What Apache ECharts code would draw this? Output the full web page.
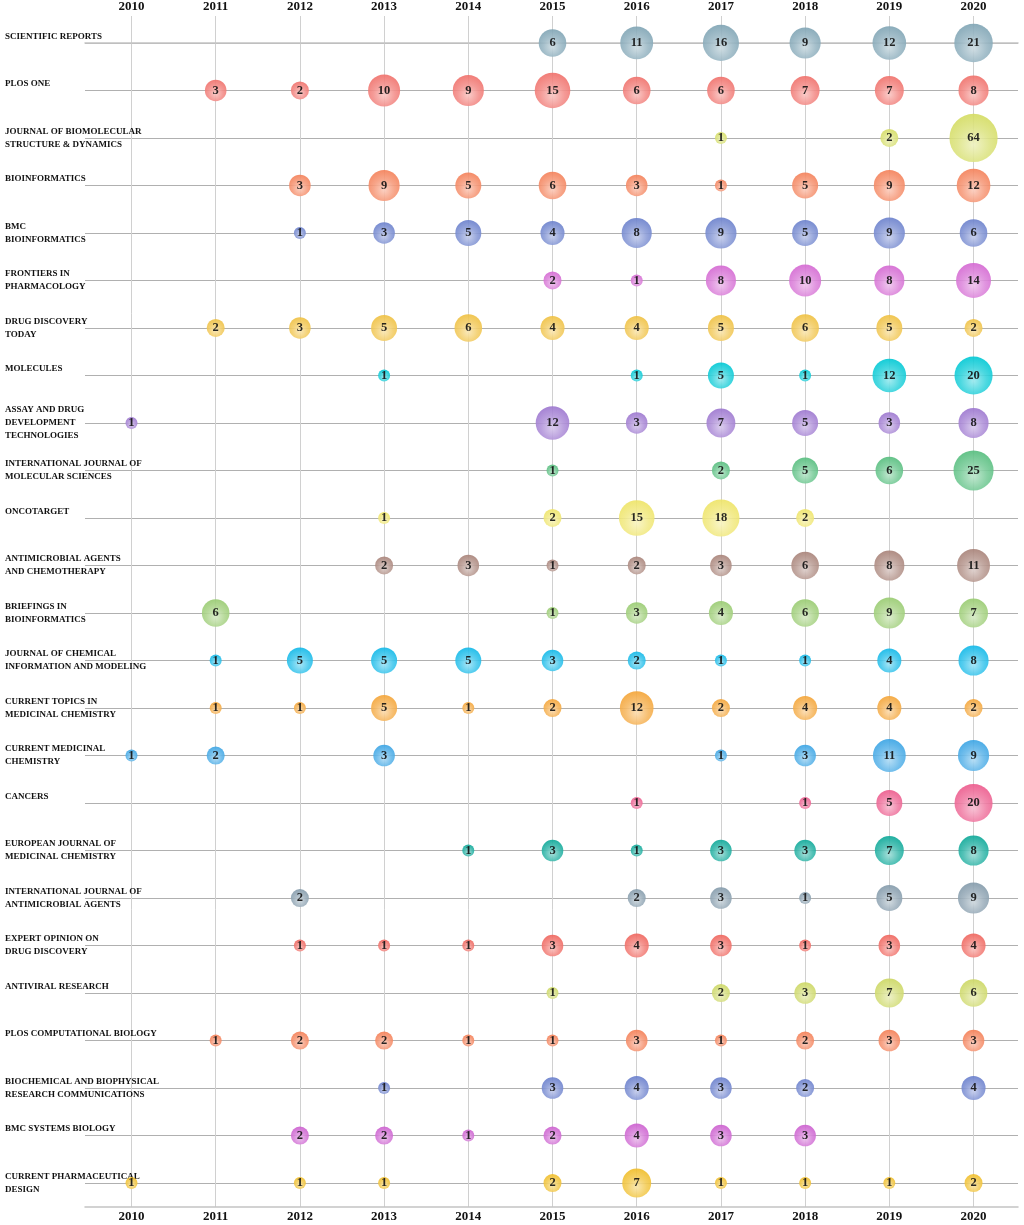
<!DOCTYPE html>
<html><head><meta charset="utf-8">
<script src="https://cdn.jsdelivr.net/npm/echarts@6/dist/echarts.min.js"></script>
<style>html,body{margin:0;padding:0;background:#fff}#c{width:1024px;height:1225px}</style>
</head><body><div id="c"></div>
<script>
const years = [2010, 2011, 2012, 2013, 2014, 2015, 2016, 2017, 2018, 2019, 2020];
const journals = [
  'SCIENTIFIC REPORTS',
  'PLOS ONE',
  'JOURNAL OF BIOMOLECULAR\nSTRUCTURE & DYNAMICS',
  'BIOINFORMATICS',
  'BMC\nBIOINFORMATICS',
  'FRONTIERS IN\nPHARMACOLOGY',
  'DRUG DISCOVERY\nTODAY',
  'MOLECULES',
  'ASSAY AND DRUG\nDEVELOPMENT\nTECHNOLOGIES',
  'INTERNATIONAL JOURNAL OF\nMOLECULAR SCIENCES',
  'ONCOTARGET',
  'ANTIMICROBIAL AGENTS\nAND CHEMOTHERAPY',
  'BRIEFINGS IN\nBIOINFORMATICS',
  'JOURNAL OF CHEMICAL\nINFORMATION AND MODELING',
  'CURRENT TOPICS IN\nMEDICINAL CHEMISTRY',
  'CURRENT MEDICINAL\nCHEMISTRY',
  'CANCERS',
  'EUROPEAN JOURNAL OF\nMEDICINAL CHEMISTRY',
  'INTERNATIONAL JOURNAL OF\nANTIMICROBIAL AGENTS',
  'EXPERT OPINION ON\nDRUG DISCOVERY',
  'ANTIVIRAL RESEARCH',
  'PLOS COMPUTATIONAL BIOLOGY',
  'BIOCHEMICAL AND BIOPHYSICAL\nRESEARCH COMMUNICATIONS',
  'BMC SYSTEMS BIOLOGY',
  'CURRENT PHARMACEUTICAL\nDESIGN'
];
const _ = null;
const counts = [
  [_, _, _, _, _, 6, 11, 16, 9, 12, 21],
  [_, 3, 2, 10, 9, 15, 6, 6, 7, 7, 8],
  [_, _, _, _, _, _, _, 1, _, 2, 64],
  [_, _, 3, 9, 5, 6, 3, 1, 5, 9, 12],
  [_, _, 1, 3, 5, 4, 8, 9, 5, 9, 6],
  [_, _, _, _, _, 2, 1, 8, 10, 8, 14],
  [_, 2, 3, 5, 6, 4, 4, 5, 6, 5, 2],
  [_, _, _, 1, _, _, 1, 5, 1, 12, 20],
  [1, _, _, _, _, 12, 3, 7, 5, 3, 8],
  [_, _, _, _, _, 1, _, 2, 5, 6, 25],
  [_, _, _, 1, _, 2, 15, 18, 2, _, _],
  [_, _, _, 2, 3, 1, 2, 3, 6, 8, 11],
  [_, 6, _, _, _, 1, 3, 4, 6, 9, 7],
  [_, 1, 5, 5, 5, 3, 2, 1, 1, 4, 8],
  [_, 1, 1, 5, 1, 2, 12, 2, 4, 4, 2],
  [1, 2, _, 3, _, _, _, 1, 3, 11, 9],
  [_, _, _, _, _, _, 1, _, 1, 5, 20],
  [_, _, _, _, 1, 3, 1, 3, 3, 7, 8],
  [_, _, 2, _, _, _, 2, 3, 1, 5, 9],
  [_, _, 1, 1, 1, 3, 4, 3, 1, 3, 4],
  [_, _, _, _, _, 1, _, 2, 3, 7, 6],
  [_, 1, 2, 2, 1, 1, 3, 1, 2, 3, 3],
  [_, _, _, 1, _, 3, 4, 3, 2, _, 4],
  [_, _, 2, 2, 1, 2, 4, 3, 3, _, _],
  [1, _, 1, 1, _, 2, 7, 1, 1, 1, 2]
];
const rowColors = [
  '#7fa4b4', '#f0706a', '#d4dc62', '#f48058', '#6a80cc',
  '#d468d2', '#efc040', '#00c8d4', '#9c76cf', '#55bd7d',
  '#eee466', '#a88278', '#98cb70', '#10b8e8', '#f4a436',
  '#3aa4e4', '#ec5a8c', '#0ca898', '#839aaa', '#ef645c',
  '#ccd762', '#f47e54', '#687ecc', '#cc5ecf', '#f0bd28'
];

function lighten(hex, t) {
  const n = parseInt(hex.slice(1), 16);
  const r = (n >> 16) & 255, g = (n >> 8) & 255, b = n & 255;
  const m = c => Math.round(c + (255 - c) * t);
  return 'rgb(' + m(r) + ',' + m(g) + ',' + m(b) + ')';
}

const serif = '"Liberation Serif", "DejaVu Serif", serif';

const series = journals.map((name, r) => {
  const c = rowColors[r];
  return {
    type: 'scatter',
    name: name,
    xAxisIndex: 0,
    yAxisIndex: 0,
    data: counts[r].map((v, i) => v == null ? null : [years[i], r, v]).filter(d => d),
    symbolSize: d => 12 + 8.7 * Math.log(d[2]),
    itemStyle: {
      opacity: 0.9,
      color: {
        type: 'radial', x: 0.5, y: 0.64, r: 0.62,
        colorStops: [
          { offset: 0, color: lighten(c, 0.6) },
          { offset: 0.55, color: lighten(c, 0.22) },
          { offset: 1, color: c }
        ]
      }
    },
    label: {
      show: true, position: 'inside',
      formatter: p => String(p.data[2]),
      fontFamily: serif, fontWeight: 'bold', fontSize: 12.5, color: '#111'
    },
    emphasis: { disabled: true },
    z: 3
  };
});

const xMin = 2009.448, xMax = 2020.528;
const yMin = -0.567, yMax = 24.504;

const xLabel = {
  customValues: years,
  formatter: v => String(Math.round(v)),
  fontFamily: serif, fontWeight: 'bold', fontSize: 13, color: '#111', margin: 3
};

const option = {
  backgroundColor: '#fff',
  animation: false,
  grid: { left: 85, right: 6, top: 14, bottom: 18, containLabel: false },
  xAxis: [
    {
      type: 'value', position: 'top', min: xMin, max: xMax,
      axisLine: { show: true, lineStyle: { color: '#c4c4c4', width: 1.5 } },
      axisTick: { show: false, customValues: years },
      axisLabel: xLabel,
      splitLine: { show: true, lineStyle: { color: '#d0d0d0', width: 1 } }
    },
    {
      type: 'value', position: 'bottom', min: xMin, max: xMax,
      axisLine: { show: true, lineStyle: { color: '#c4c4c4', width: 1.5 } },
      axisTick: { show: false, customValues: years },
      axisLabel: xLabel,
      splitLine: { show: false }
    }
  ],
  yAxis: {
    type: 'value', inverse: true, min: yMin, max: yMax,
    axisLine: { show: false },
    axisTick: { show: false, customValues: journals.map((j, i) => i) },
    axisLabel: {
      customValues: journals.map((j, i) => i),
      formatter: v => {
        const s = journals[Math.round(v)] || '';
        return s.indexOf('\n') >= 0 ? s : s + '\n';
      },
      align: 'left', margin: 80,
      fontFamily: serif, fontWeight: 'bold', fontSize: 9, color: '#111',
      lineHeight: 13
    },
    splitLine: { show: true, lineStyle: { color: '#b0b0b0', width: 1.2 } }
  },
  series: series
};

const chart = echarts.init(document.getElementById('c'), null, { renderer: 'canvas' });
chart.setOption(option);
</script>
</body></html>
